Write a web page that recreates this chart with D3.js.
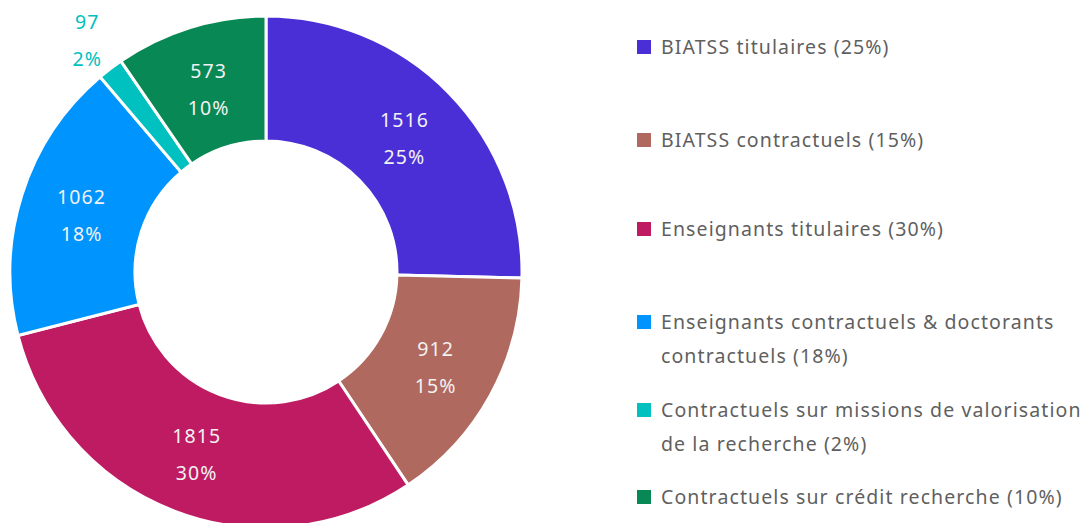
<!DOCTYPE html>
<html>
<head>
<meta charset="utf-8">
<script src="https://cdn.jsdelivr.net/npm/d3@7"></script>
<style>
  body { margin: 0; background: #fff; }
  svg { display: block; font-family: "Noto Sans", sans-serif; }
</style>
</head>
<body>
<div id="svg-container"></div>
<script>
// chart data
const categories = [
    'BIATSS titulaires',
    'BIATSS contractuels',
    'Enseignants titulaires',
    'Enseignants contractuels & doctorants contractuels',
    'Contractuels sur missions de valorisation de la recherche',
    'Contractuels sur crédit recherche'
];
const values = [1516, 912, 1815, 1062, 97, 573];
const percents = [25, 15, 30, 18, 2, 10];
// legend text split in lines as drawn in the reference
const legendLines = [
    ['BIATSS titulaires (25%)'],
    ['BIATSS contractuels (15%)'],
    ['Enseignants titulaires (30%)'],
    ['Enseignants contractuels & doctorants', 'contractuels (18%)'],
    ['Contractuels sur missions de valorisation', 'de la recherche (2%)'],
    ['Contractuels sur crédit recherche (10%)']
];

const params = {
    width: 1088,
    height: 523,
    cx: 266,
    cy: 272,
    outerRadius: 256,
    innerRadius: 131,
    colors: ['#4a2fd6', '#b0695f', '#be1b62', '#0094ff', '#00c0c0', '#078855'],
    legendX: 637,
    legendY: [47, 140, 229, 322, 410, 497],
    legendLineHeight: 34,
    fontSize: '19.5px',
    letterSpacing: '1.1px'
};

const svg = d3.select('#svg-container')
    .append('svg')
    .attr('width', params.width)
    .attr('height', params.height);

const rows = categories.map((c, i) => ({ name: c, value: values[i], pct: percents[i], i }));

const pie = d3.pie().sort(null).value(d => d.value);
const arc = d3.arc().innerRadius(params.innerRadius).outerRadius(params.outerRadius);
const labelArc = d3.arc()
    .innerRadius((params.innerRadius + params.outerRadius) / 2)
    .outerRadius((params.innerRadius + params.outerRadius) / 2);
const outerLabelArc = d3.arc().innerRadius(294).outerRadius(294);

const chart = svg.append('g')
    .attr('class', 'donut')
    .attr('transform', `translate(${params.cx}, ${params.cy})`);

const arcs = pie(rows);
const isSmall = d => (d.endAngle - d.startAngle) < 0.2;

chart.selectAll('path.slice')
    .data(arcs)
    .enter()
    .append('path')
    .attr('class', 'slice')
    .attr('d', arc)
    .attr('fill', d => params.colors[d.data.i])
    .attr('stroke', '#fff')
    .attr('stroke-width', 3);

// slice labels: small slices go outside
const labels = chart.selectAll('g.slice-label')
    .data(arcs)
    .enter()
    .append('g')
    .attr('class', 'slice-label')
    .attr('transform', d => {
        const p = (isSmall(d) ? outerLabelArc : labelArc).centroid(d);
        return `translate(${p[0]}, ${p[1]})`;
    });

labels.append('text')
    .attr('text-anchor', 'middle')
    .attr('y', -16.5)
    .attr('dy', '0.35em')
    .style('font-size', params.fontSize)
    .style('letter-spacing', params.letterSpacing)
    .style('fill', d => isSmall(d) ? params.colors[d.data.i] : '#f2f2f2')
    .text(d => d.data.value);

labels.append('text')
    .attr('text-anchor', 'middle')
    .attr('y', 20.5)
    .attr('dy', '0.35em')
    .style('font-size', params.fontSize)
    .style('letter-spacing', params.letterSpacing)
    .style('fill', d => isSmall(d) ? params.colors[d.data.i] : '#f2f2f2')
    .text(d => d.data.pct + '%');

// legend
const legend = svg.append('g').attr('class', 'legend');
const items = legend.selectAll('g.legend-item')
    .data(rows)
    .enter()
    .append('g')
    .attr('class', 'legend-item')
    .attr('transform', d => `translate(${params.legendX}, ${params.legendY[d.i]})`);

items.append('rect')
    .attr('x', 0)
    .attr('y', -7)
    .attr('width', 14)
    .attr('height', 14)
    .attr('fill', d => params.colors[d.i]);

items.each(function (d) {
    const t = d3.select(this).append('text')
        .attr('x', 24)
        .style('font-size', params.fontSize)
        .style('letter-spacing', params.letterSpacing)
        .style('fill', '#5f5f5f');
    legendLines[d.i].forEach((line, k) => {
        t.append('tspan')
            .attr('x', 24)
            .attr('y', k * params.legendLineHeight)
            .attr('dy', '0.35em')
            .text(line);
    });
});
</script>
</body>
</html>
